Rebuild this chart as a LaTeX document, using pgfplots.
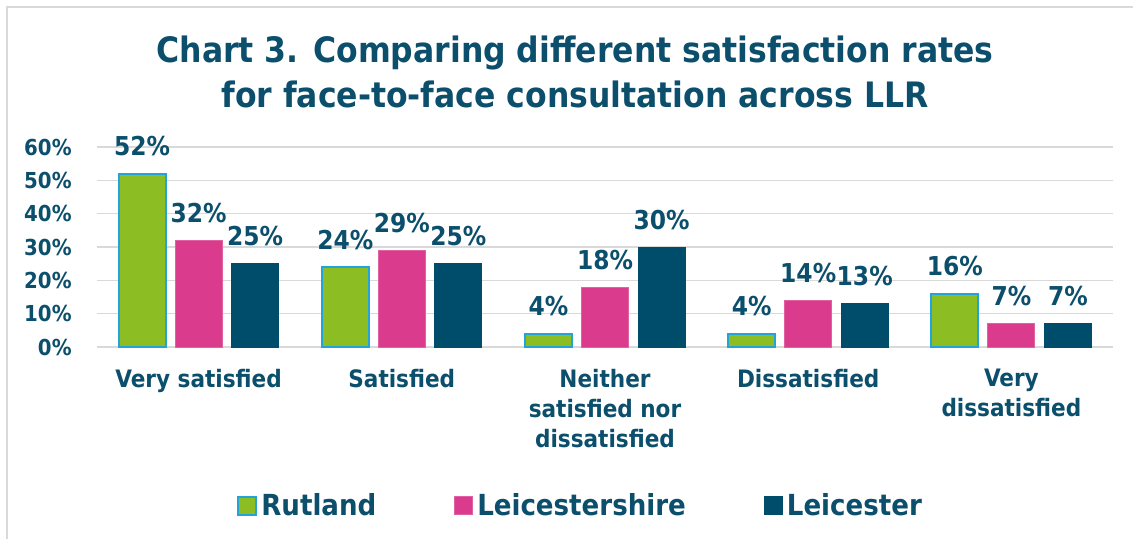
\documentclass[border=0pt]{standalone}
\usepackage{pgfplots}
\pgfplotsset{compat=1.18}
\usepackage{fontspec}
\setmainfont{DejaVu Sans Condensed}[BoldFont={DejaVu Sans Condensed Bold}]
\definecolor{cText}{HTML}{0B4F6C}
\definecolor{cGreen}{HTML}{8CBD23}
\definecolor{cPink}{HTML}{DA3B8C}
\definecolor{cTeal}{HTML}{004D6B}
\definecolor{cEdge}{HTML}{22A4DA}
\definecolor{cGrid}{HTML}{D9D9D9}
\begin{document}
\begin{tikzpicture}
\useasboundingbox (0,0) rectangle (566.5pt,-269.5pt);
\draw[cGrid, line width=1pt] (3.25pt,-275pt) -- (3.25pt,-3.5pt) -- (570pt,-3.5pt);
\node[font=\bfseries\fontsize{17.5}{22.5}\selectfont, text=cText, align=center] at (287.5pt,-36pt)
  {Chart 3. Comparing different satisfaction rates\\for face-to-face consultation across LLR};
\begin{axis}[
  at={(48.5pt,-173.5pt)}, anchor=south west,
  scale only axis, width=508pt, height=100pt,
  ybar=4.75pt, bar width=23.5pt,
  xmin=-0.5, xmax=4.5, ymin=0, ymax=60,
  xtick={0,1,2,3,4},
  xticklabels={Very satisfied, Satisfied, {Neither\\satisfied nor\\dissatisfied}, Dissatisfied, {Very\\dissatisfied}},
  ytick={0,10,20,30,40,50,60},
  yticklabels={0\%,10\%,20\%,30\%,40\%,50\%,60\%},
  axis line style={draw=none},
  major tick length=0pt,
  ymajorgrids, major grid style={cGrid, line width=0.8pt},
  xticklabel style={anchor=north, inner sep=0pt, yshift=-11pt, align=center,
     font=\bfseries\fontsize{12}{15}\selectfont, text=cText},
  yticklabel style={anchor=east, inner sep=0pt, xshift=-12.5pt,
     font=\bfseries\fontsize{11}{13}\selectfont, text=cText},
  /pgf/number format/assume math mode=true,
  nodes near coords={\pgfmathprintnumber{\pgfplotspointmeta}\%},
  nodes near coords style={anchor=base, inner sep=0pt, yshift=9pt,
     font=\bfseries\fontsize{13}{15}\selectfont, text=cText},
  legend style={at={(0.477,-0.795)}, anchor=center, draw=none, fill=none,
     legend columns=3, font=\bfseries\fontsize{14.5}{17}\selectfont, text=cText,
     /tikz/every even column/.append style={column sep=37pt},
     /tikz/every odd column/.append style={column sep=0pt},
     cells={anchor=west, inner sep=0pt, xshift=4.5pt}},
  legend image code/.code={\draw[#1] (0pt,-4.5pt) rectangle (9pt,4.5pt);},
]
\addplot[fill=cGreen, draw=cEdge, line width=1pt] coordinates {(0,52) (1,24) (2,4) (3,4) (4,16)};
\addplot[fill=cPink, draw=cPink!80!white, line width=0.5pt] coordinates {(0,32) (1,29) (2,18) (3,14) (4,7)};
\addplot[fill=cTeal, draw=cTeal, line width=0.5pt] coordinates {(0,25) (1,25) (2,30) (3,13) (4,7)};
\legend{Rutland, Leicestershire, Leicester}
\end{axis}
\end{tikzpicture}
\end{document}
